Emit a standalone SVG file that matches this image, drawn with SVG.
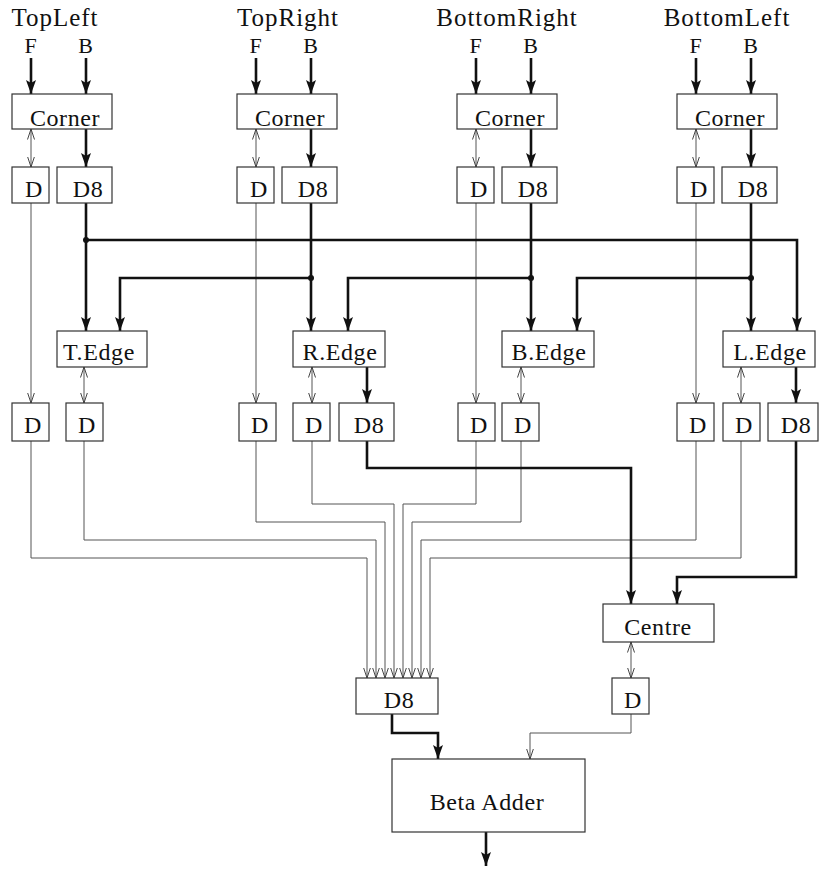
<svg xmlns="http://www.w3.org/2000/svg" width="820" height="870" viewBox="0 0 820 870">
<style>
text{font-family:"Liberation Serif","Times New Roman",serif;font-size:24px;fill:#111;text-anchor:middle;letter-spacing:0.6px}
.title{font-size:25px;letter-spacing:1px}
.fb{font-size:22px}
rect{fill:#fff;stroke:#333;stroke-width:1.2}
.thick{fill:none;stroke:#111;stroke-width:2.6;marker-end:url(#ah)}
.thin{fill:none;stroke:#555;stroke-width:1;marker-end:url(#oh)}
.dbl{fill:none;stroke:#555;stroke-width:1;marker-end:url(#oh);marker-start:url(#oh)}
.dot{fill:#111}
</style>
<defs>
<marker id="ah" viewBox="0 0 14 10" refX="14" refY="5" markerWidth="14" markerHeight="10" orient="auto" markerUnits="userSpaceOnUse">
<path d="M0,0 L14,5 L0,10 L3,5 z" fill="#111"/>
</marker>
<marker id="oh" viewBox="0 0 11 8" refX="10.5" refY="4" markerWidth="11" markerHeight="8" orient="auto-start-reverse" markerUnits="userSpaceOnUse">
<path d="M0,0.5 L10.5,4 L0,7.5" fill="none" stroke="#444" stroke-width="1"/>
</marker>
</defs>

<g id="titles">
<text class="title" x="55" y="26">TopLeft</text>
<text class="title" x="288" y="26">TopRight</text>
<text class="title" x="507" y="26">BottomRight</text>
<text class="title" x="727" y="26">BottomLeft</text>
<text class="fb" x="31" y="53">F</text><text class="fb" x="86" y="53">B</text>
<text class="fb" x="256" y="53">F</text><text class="fb" x="311" y="53">B</text>
<text class="fb" x="476" y="53">F</text><text class="fb" x="531" y="53">B</text>
<text class="fb" x="696" y="53">F</text><text class="fb" x="751" y="53">B</text>
</g>

<g id="connectors">
<path class="thick" d="M31,58 V94"/><path class="thick" d="M86,58 V94"/>
<path class="thick" d="M256,58 V94"/><path class="thick" d="M311,58 V94"/>
<path class="thick" d="M476,58 V94"/><path class="thick" d="M531,58 V94"/>
<path class="thick" d="M696,58 V94"/><path class="thick" d="M751,58 V94"/>

<path class="dbl" d="M31,129 V167"/><path class="thick" d="M86,129 V167"/>
<path class="dbl" d="M256,129 V167"/><path class="thick" d="M311,129 V167"/>
<path class="dbl" d="M476,129 V167"/><path class="thick" d="M531,129 V167"/>
<path class="dbl" d="M696,129 V167"/><path class="thick" d="M751,129 V167"/>

<path class="thin" d="M31,203 V403"/>
<path class="thin" d="M256,203 V403"/>
<path class="thin" d="M476,203 V403"/>
<path class="thin" d="M696,203 V403"/>

<path class="thick" d="M86,203 V331"/>
<path class="thick" d="M86,240 H797 V331"/>
<path class="thick" d="M311,203 V331"/>
<path class="thick" d="M311,278 H120 V331"/>
<path class="thick" d="M531,203 V331"/>
<path class="thick" d="M531,278 H348 V331"/>
<path class="thick" d="M751,203 V331"/>
<path class="thick" d="M751,278 H577 V331"/>
<circle class="dot" cx="86" cy="240" r="3"/>
<circle class="dot" cx="311" cy="278" r="3"/>
<circle class="dot" cx="531" cy="278" r="3"/>
<circle class="dot" cx="751" cy="278" r="3"/>

<path class="dbl" d="M84,367 V403"/>
<path class="dbl" d="M312,367 V403"/>
<path class="dbl" d="M521,367 V403"/>
<path class="dbl" d="M741,367 V403"/>
<path class="thick" d="M367,367 V403"/>
<path class="thick" d="M796,367 V403"/>

<path class="thin" d="M31,441 V558 H367 V678"/>
<path class="thin" d="M84,441 V540 H376 V678"/>
<path class="thin" d="M256,441 V522 H385 V678"/>
<path class="thin" d="M312,441 V504 H394 V678"/>
<path class="thin" d="M476,441 V504 H403 V678"/>
<path class="thin" d="M521,441 V522 H412 V678"/>
<path class="thin" d="M696,441 V540 H421 V678"/>
<path class="thin" d="M741,441 V558 H430 V678"/>

<path class="thick" d="M367,441 V468 H631 V604"/>
<path class="thick" d="M796,441 V577 H677 V604"/>

<path class="dbl" d="M631,642 V678"/>
<path class="thin" d="M631,714 V733 H530 V759"/>
<path class="thick" d="M392,714 V733 H438 V759"/>
<path class="thick" d="M486,832 V866"/>
</g>

<g id="corner-tl"><rect x="12" y="94" width="100" height="35"/><text x="65" y="126">Corner</text></g>
<g id="corner-tr"><rect x="237" y="94" width="100" height="35"/><text x="290" y="126">Corner</text></g>
<g id="corner-br"><rect x="457" y="94" width="100" height="35"/><text x="510" y="126">Corner</text></g>
<g id="corner-bl"><rect x="677" y="94" width="100" height="35"/><text x="730" y="126">Corner</text></g>

<g id="d-tl"><rect x="12" y="167" width="37" height="36"/><text x="34" y="197">D</text></g>
<g id="d8-tl"><rect x="57" y="167" width="55" height="36"/><text x="88" y="197">D8</text></g>
<g id="d-tr"><rect x="237" y="167" width="37" height="36"/><text x="259" y="197">D</text></g>
<g id="d8-tr"><rect x="282" y="167" width="55" height="36"/><text x="313" y="197">D8</text></g>
<g id="d-br"><rect x="457" y="167" width="37" height="36"/><text x="479" y="197">D</text></g>
<g id="d8-br"><rect x="502" y="167" width="55" height="36"/><text x="533" y="197">D8</text></g>
<g id="d-bl"><rect x="677" y="167" width="37" height="36"/><text x="699" y="197">D</text></g>
<g id="d8-bl"><rect x="722" y="167" width="55" height="36"/><text x="753" y="197">D8</text></g>

<g id="t-edge"><rect x="57" y="331" width="90" height="36"/><text x="99" y="360">T.Edge</text></g>
<g id="r-edge"><rect x="293" y="331" width="92" height="36"/><text x="340" y="360">R.Edge</text></g>
<g id="b-edge"><rect x="502" y="331" width="92" height="36"/><text x="549" y="360">B.Edge</text></g>
<g id="l-edge"><rect x="723" y="331" width="92" height="36"/><text x="770" y="360">L.Edge</text></g>

<g id="d-tl2"><rect x="12" y="403" width="37" height="38"/><text x="33" y="433">D</text></g>
<g id="d-te"><rect x="66" y="403" width="37" height="38"/><text x="87" y="433">D</text></g>
<g id="d-tr2"><rect x="239" y="403" width="37" height="38"/><text x="260" y="433">D</text></g>
<g id="d-re"><rect x="293" y="403" width="37" height="38"/><text x="314" y="433">D</text></g>
<g id="d8-re"><rect x="339" y="403" width="55" height="38"/><text x="369" y="433">D8</text></g>
<g id="d-br2"><rect x="458" y="403" width="37" height="38"/><text x="479" y="433">D</text></g>
<g id="d-be"><rect x="502" y="403" width="37" height="38"/><text x="523" y="433">D</text></g>
<g id="d-bl2"><rect x="677" y="403" width="37" height="38"/><text x="698" y="433">D</text></g>
<g id="d-le"><rect x="723" y="403" width="37" height="38"/><text x="744" y="433">D</text></g>
<g id="d8-le"><rect x="768" y="403" width="50" height="38"/><text x="796" y="433">D8</text></g>

<g id="centre"><rect x="603" y="604" width="111" height="38"/><text x="658" y="635">Centre</text></g>
<g id="d-centre"><rect x="612" y="678" width="37" height="36"/><text x="633" y="708">D</text></g>
<g id="d8-sum"><rect x="356" y="678" width="82" height="36"/><text x="399" y="708">D8</text></g>
<g id="beta-adder"><rect x="392" y="759" width="193" height="73"/><text x="487" y="810">Beta Adder</text></g>
</svg>
